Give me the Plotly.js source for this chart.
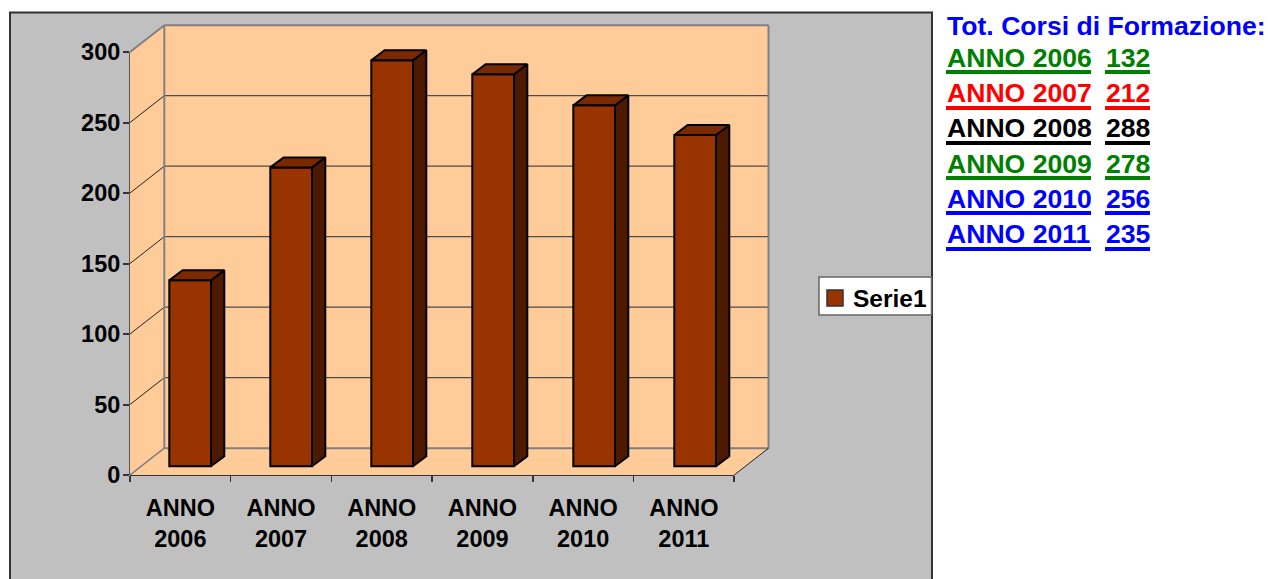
<!DOCTYPE html>
<html>
<head>
<meta charset="utf-8">
<script src="https://cdn.plot.ly/plotly-3.0.1.min.js"></script>
<style>html,body{margin:0;padding:0;background:#fff;overflow:hidden}</style>
</head>
<body>
<div id="chart" style="width:1268px;height:579px"></div>
<script>
// ---- data ----
const categories = ["ANNO 2006","ANNO 2007","ANNO 2008","ANNO 2009","ANNO 2010","ANNO 2011"];
const seriesName = "Serie1";
const values = [132,212,288,278,256,235];
const yTicks = [0,50,100,150,200,250,300];
const panelTitle = "Tot. Corsi di Formazione:";
const panelColors = ["#008000","#FF0000","#000000","#008000","#0000FF","#0000FF"];

// ---- geometry ----
const W=1268,H=579;
const plotL=130,plotR=775,plotT=20,plotB=475;
const pxPerCat=100.7,pxPerVal=1.41;
const xMax=(plotR-plotL)/pxPerCat, yMaxR=(plotB-plotT)/pxPerVal;
const nCat=categories.length, yTop=yTicks[yTicks.length-1];
const dx=34.3/pxPerCat, dy=26.8/pxPerVal;          // wall depth
const barOx=9.8/pxPerCat, barBase=8.7/pxPerVal;    // bar position on the floor
const barW=41.7/pxPerCat, barPitch=101/pxPerCat;
const sx=13.3/pxPerCat, sy=10/pxPerVal;            // bar depth
const px=x=>(x-plotL)/(plotR-plotL), py=y=>(plotB-y)/(plotB-plotT);

const centers=categories.map((_,i)=>0.5+barOx+i*barPitch);
const sideX=[],sideY=[],topX=[],topY=[];
values.forEach((v,i)=>{
  const l=centers[i]-barW/2,r=centers[i]+barW/2,t=v+barBase;
  sideX.push(r,r+sx,r+sx,r,r,null); sideY.push(barBase,barBase+sy,t+sy,t,barBase,null);
  topX.push(l,l+sx,r+sx,r,l,null);  topY.push(t,t+sy,t+sy,t,t,null);
});

const poly=(pts,fill)=>({type:"path",xref:"x",yref:"y",layer:"below",fillcolor:fill,line:{width:0},
  path:"M"+pts.map(p=>p.join(",")).join("L")+"Z"});
const seg=(x0,y0,x1,y1,color,width)=>({type:"line",xref:"x",yref:"y",layer:"below",x0,y0,x1,y1,line:{color,width}});

const wall="#FFCC99",edge="#808080",grid="#4d4d4d";
const shapes=[
  {type:"rect",xref:"paper",yref:"paper",layer:"below",x0:px(10),x1:px(932),y0:py(590),y1:py(12.5),
   fillcolor:"#C0C0C0",line:{color:"#333333",width:2}},
  poly([[0,0],[dx,dy],[dx,yTop+dy],[0,yTop]],wall),
  poly([[dx,dy],[nCat+dx,dy],[nCat+dx,yTop+dy],[dx,yTop+dy]],wall),
  poly([[0,0],[nCat,0],[nCat+dx,dy],[dx,dy]],wall),
];
yTicks.forEach(t=>{
  if(t>0&&t<yTop){
    shapes.push(seg(0,t,dx,t+dy,"#222222",1));
    shapes.push(seg(dx,t+dy,nCat+dx,t+dy,grid,1.3));
  }
});
shapes.push(seg(0,0,dx,dy,edge,1.5));
shapes.push(seg(0,yTop,dx,yTop+dy,edge,2));
shapes.push(seg(dx,dy,dx,yTop+dy,edge,2));
shapes.push(seg(dx,yTop+dy,nCat+dx,yTop+dy,edge,2));
shapes.push(seg(nCat+dx,dy,nCat+dx,yTop+dy,edge,2));
shapes.push(seg(dx,dy,nCat+dx,dy,edge,2));
shapes.push(seg(nCat,0,nCat+dx,dy,"#222222",1));
// axis lines
shapes.push({type:"line",xref:"paper",yref:"y",layer:"below",x0:0,x1:0,y0:0,y1:yTop,line:{color:"#555555",width:2}});
shapes.push({type:"line",xref:"x",yref:"paper",layer:"below",x0:0,x1:nCat,y0:0,y1:0,line:{color:"#333333",width:2}});

// legend box
shapes.push({type:"rect",xref:"paper",yref:"paper",layer:"below",x0:px(819),x1:px(931.5),y0:py(315),y1:py(277),
  fillcolor:"#FFFFFF",line:{color:"#666666",width:1.5}});
shapes.push({type:"rect",xref:"paper",yref:"paper",layer:"below",x0:px(827),x1:px(843),y0:py(306),y1:py(290),
  fillcolor:"#993300",line:{color:"#333333",width:1.5}});

// side panel
const panelFont=26.6;
const annotations=[
  {xref:"paper",yref:"paper",x:px(851),y:py(298),xanchor:"left",yanchor:"middle",showarrow:false,
   text:"<b>"+seriesName+"</b>",font:{family:"Liberation Sans",size:24.5,color:"#000000"}},
  {xref:"paper",yref:"paper",x:px(945),y:py(26),xanchor:"left",yanchor:"middle",showarrow:false,
   text:"<b>"+panelTitle+"</b>",font:{family:"Liberation Sans",size:panelFont,color:"#0000FF"}}];
const rowY=[58,93,128,164,199,234], ulY=[72,108,143,178,213,249];
categories.forEach((c,i)=>{
  const font={family:"Liberation Sans",size:panelFont,color:panelColors[i]};
  annotations.push({xref:"paper",yref:"paper",x:px(945),y:py(rowY[i]),xanchor:"left",yanchor:"middle",showarrow:false,text:"<b>"+c+"</b>",font});
  annotations.push({xref:"paper",yref:"paper",x:px(1104),y:py(rowY[i]),xanchor:"left",yanchor:"middle",showarrow:false,text:"<b>"+values[i]+"</b>",font});
  [[946,1091],[1105,1150]].forEach(([a,b])=>shapes.push({type:"line",xref:"paper",yref:"paper",x0:px(a),x1:px(b),y0:py(ulY[i]),y1:py(ulY[i]),line:{color:panelColors[i],width:4}}));
});

const faces=[
  {type:"bar",name:seriesName,x:centers,y:values,base:barBase,width:barW,
   marker:{color:"#993300",line:{color:"#000000",width:2}},hoverinfo:"y",showlegend:false},
  {type:"scatter",mode:"lines",x:sideX,y:sideY,fill:"toself",fillcolor:"#4D1A00",line:{color:"#000000",width:2},hoverinfo:"skip",showlegend:false},
  {type:"scatter",mode:"lines",x:topX,y:topY,fill:"toself",fillcolor:"#7A2900",line:{color:"#000000",width:2},hoverinfo:"skip",showlegend:false}
];

const tickFont={family:"Liberation Sans",size:23.5,color:"#000000"};
const layout={
  width:W,height:H,paper_bgcolor:"#FFFFFF",plot_bgcolor:"rgba(0,0,0,0)",
  margin:{l:plotL,r:W-plotR,t:plotT,b:H-plotB,pad:0,autoexpand:false},
  font:{family:"Liberation Sans"},
  xaxis:{range:[0,xMax],showgrid:false,zeroline:false,showline:false,tickmode:"array",
    tickvals:categories.map((_,i)=>i+0.5),
    ticktext:categories.map(c=>"<b>"+c.replace(" ","<br>")+"</b>"),
    tickangle:0,ticks:"outside",ticklen:12,tickcolor:"rgba(0,0,0,0)",tickfont:tickFont,
    minor:{tickmode:"array",tickvals:categories.map((_,i)=>i).concat([nCat]),ticks:"outside",ticklen:6,tickcolor:"#333333",tickwidth:1.5,showgrid:false}},
  yaxis:{range:[0,yMaxR],showgrid:false,zeroline:false,showline:false,tickmode:"array",
    tickvals:yTicks,ticktext:yTicks.map(t=>"<b>"+t+"</b>"),
    ticks:"outside",ticklen:6,tickcolor:"#333333",tickwidth:2,tickfont:tickFont,ticklabelstandoff:-2},
  showlegend:false,bargap:0,shapes,annotations
};
Plotly.newPlot("chart",faces,layout,{staticPlot:true,displayModeBar:false});
</script>
</body>
</html>
